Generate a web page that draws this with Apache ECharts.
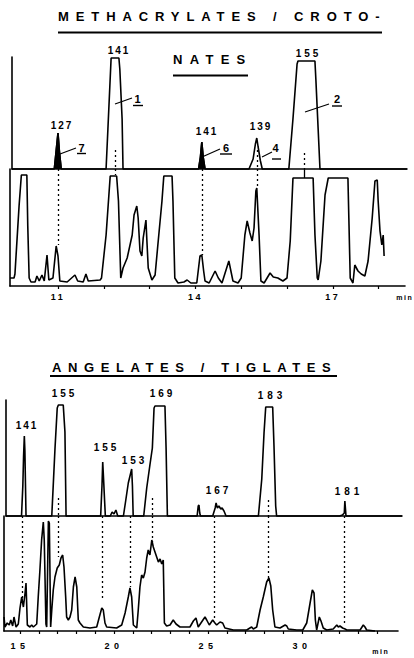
<!DOCTYPE html>
<html><head><meta charset="utf-8">
<script src="https://cdn.jsdelivr.net/npm/echarts@6/dist/echarts.min.js"></script>
<style>html,body{margin:0;padding:0;background:#fff}#c{width:414px;height:658px}</style>
</head><body><div id="c"></div>
<script>
// ---------- DATA (time in min, relative intensity) ----------
// Panel 1: methacrylates / crotonates - selected ion trace (upper)
const ms1Trace = [
 [9.996,0],[10.92,0],[10.96,18],[11.00,36],[11.03,18],[11.07,0],
 [12.05,0],[12.09,40],[12.16,111],[12.33,111],[12.35,100],[12.40,50],[12.42,0],
 [14.07,0],[14.11,12],[14.14,27],[14.17,12],[14.21,0],
 [15.17,0],[15.26,10],[15.31,25],[15.34,31],[15.37,22],[15.42,8],[15.46,0],
 [16.04,0],[16.13,50],[16.22,105],[16.24,108],[16.61,108],[16.63,90],[16.68,40],[16.72,0],
 [18.62,0]
];
// time windows of the small peaks that are printed solid black
const filledWindows1 = [[10.90, 11.10], [14.05, 14.25]];
// Panel 1: total ion trace (lower)
const tic1Trace = [
 [9.952,8],[10.04,8],[10.06,12],[10.15,80],[10.20,111],[10.32,111],[10.34,60],[10.37,8],[10.41,4],
 [10.50,4],[10.54,10],[10.59,5],[10.65,11],[10.70,5],[10.76,31],[10.80,6],[10.89,8],[10.96,40],[11.00,30],[11.04,5],
 [11.20,4],[11.37,11],[11.43,5],[11.55,4],[11.61,12],[11.66,5],[11.92,6],[11.95,8],[12.05,51],[12.14,110],[12.28,110],[12.32,85],[12.37,8],
 [12.42,18],[12.51,28],[12.62,51],[12.66,71],[12.72,80],[12.75,68],[12.79,35],[12.83,30],[12.86,48],[12.92,66],[12.94,46],[12.97,18],[13.05,6],
 [13.12,11],[13.18,41],[13.27,85],[13.31,110],[13.49,110],[13.51,85],[13.55,8],[13.62,3],[13.75,4],[13.82,6],[13.90,3],[14.03,3],
 [14.10,30],[14.14,31],[14.18,15],[14.21,5],[14.30,3],[14.43,15],[14.50,8],[14.58,3],[14.73,25],[14.82,5],[14.93,3],[15.00,8],
 [15.08,51],[15.13,65],[15.19,53],[15.24,45],[15.28,58],[15.32,95],[15.34,98],[15.39,51],[15.43,5],[15.50,3],[15.63,13],[15.70,9],[15.80,8],[15.91,5],[16.00,8],
 [16.07,45],[16.13,108],[16.57,108],[16.61,51],[16.66,8],[16.68,6],[16.74,25],[16.83,91],[16.90,108],[17.33,108],[17.35,68],[17.38,8],[17.44,3],
 [17.48,21],[17.55,15],[17.62,12],[17.70,10],[17.77,25],[17.86,68],[17.92,105],[17.97,106],[17.99,85],[18.03,55],[18.07,41],[18.10,51],[18.12,30]
];
// connector lines panel 1: [time, start inside upper peak, end on lower trace]
const links1 = [[11.00,0,41],[12.24,19,111],[14.14,0,31],[15.34,19,99],[16.37,16,null]];
const ties1 = [[16.37,108]];

// Panel 2: angelates / tiglates - selected ion trace (upper)
const ms2Trace = [
 [14.255,0],[15.08,0],[15.15,30],[15.19,60],[15.23,80],[15.26,65],[15.32,0],
 [16.69,0],[16.86,67],[16.98,108],[17.04,111],[17.30,111],[17.39,84],[17.45,0],
 [19.29,0],[19.36,30],[19.40,54],[19.45,35],[19.50,15],[19.54,0],
 [19.80,0],[19.90,4],[20.00,2],[20.10,6],[20.20,0],
 [20.50,0],[20.62,15],[20.76,33],[20.94,47],[20.98,30],[21.02,0],
 [21.58,0],[21.74,28],[21.91,51],[22.04,68],[22.13,108],[22.18,110],[22.71,110],[22.77,68],[22.84,0],
 [24.42,0],[24.48,10],[24.52,11],[24.56,3],[24.60,0],
 [25.25,0],[25.38,8],[25.43,13],[25.50,8],[25.58,10],[25.68,7],[25.75,8],[25.85,5],[25.96,0],
 [27.68,0],[27.86,37],[27.98,83],[28.07,109],[28.44,109],[28.51,70],[28.60,10],[28.65,0],
 [32.00,0],[32.15,1],[32.25,3],[32.28,15],[32.31,15],[32.34,0],
 [35.32,0]
];
// Panel 2: total ion trace (lower)
const tic2Trace = [
 [14.15,14],[14.20,4],[14.32,8],[14.43,6],[14.51,11],[14.61,5],[14.68,14],[14.79,4],[14.91,7],[15.00,23],[15.09,34],[15.18,24],[15.27,38],[15.32,48],[15.39,6],
 [15.53,4],[15.62,6],[15.71,4],[15.89,7],[15.97,34],[16.06,61],[16.15,91],[16.24,109],[16.29,91],[16.38,7],[16.42,4],[16.51,110],[16.56,108],[16.63,4],
 [16.69,21],[16.77,41],[16.86,54],[16.98,63],[17.09,66],[17.18,73],[17.27,76],[17.34,64],[17.43,34],[17.48,14],[17.57,11],[17.66,14],[17.75,21],[17.84,44],[17.93,54],[18.02,44],[18.10,11],
 [18.19,8],[18.37,4],[18.72,3],[19.08,4],[19.22,14],[19.35,23],[19.43,21],[19.52,8],[19.61,4],[20.14,3],[20.41,6],[20.59,18],[20.76,34],[20.85,43],[20.94,34],[21.03,6],
 [21.21,3],[21.29,21],[21.38,44],[21.47,56],[21.56,53],[21.65,59],[21.74,73],[21.82,81],[21.91,76],[22.01,91],[22.09,84],[22.18,79],[22.27,74],[22.36,69],[22.45,72],[22.54,67],[22.62,71],[22.68,8],
 [22.80,5],[22.98,6],[23.15,11],[23.30,7],[23.51,4],[24.04,4],[24.22,10],[24.36,13],[24.48,4],[24.66,9],[24.84,14],[24.93,11],[25.07,6],[25.25,11],[25.37,8],[25.46,6],[25.64,9],[25.78,8],[25.90,3],
 [26.35,1],[27.06,1],[27.23,3],[27.32,4],[27.41,2],[27.59,4],[27.77,21],[27.94,34],[28.12,49],[28.24,53],[28.34,45],[28.44,21],[28.56,4],[28.83,3],[29.10,6],[29.19,5],[29.27,2],
 [29.72,1],[30.04,1],[30.25,8],[30.43,28],[30.55,41],[30.64,38],[30.71,11],[30.78,1],[30.92,14],[31.01,10],[31.13,3],[31.31,1],[31.66,2],[31.85,6],[31.93,4],[32.02,5],[32.16,3],[32.29,2],[32.38,1],
 [33.09,1],[33.26,6],[33.35,4],[33.44,1],[33.88,0]
];
const links2 = [[15.14,0,33],[17.04,18,74],[19.35,0,33],[20.85,0,44],[22.06,18,89],[25.32,0,11],[28.21,16,53],[32.25,0,6]];

// axis ranges / ticks
const xRange1Upper = [9.996, 18.620];
const xRange1Lower = [9.952, 18.576];
const xRange2Upper = [14.255, 35.319];
const xRange2Lower = [14.149, 35.106];
const ticks1 = [11,12,13,14,15,16,17,18];
const tickLabels1 = [11,14,17];
const ticks2 = [15,16,17,18,19,20,21,22,23,24,25,26,27,28,29,30,31,32,33,34];
const tickLabels2 = [15,20,25,30];
const yMax = [112, 117, 116, 115];

// ---------- CHART ----------
const K = '#000';
const FONT = '"Liberation Sans", Arial, sans-serif';
const chart = echarts.init(document.getElementById('c'), null, {renderer:'svg', width:414, height:658});

const grids = [
  {left:12, top:57, width:395, height:112},
  {left:10, top:169, width:395, height:117},
  {left:6, top:400, width:396, height:116},
  {left:4, top:516, width:394, height:115}
].map(g => Object.assign({outerBoundsMode:'none', containLabel:false}, g));

function xAx(i, range, ticks, labels, margin) {
  const o = {type:'value', gridIndex:i, min:range[0], max:range[1],
    axisLine:{show:true, onZero:false, lineStyle:{color:K, width:1.6}},
    splitLine:{show:false}, axisTick:{show:false}, axisLabel:{show:false}};
  if (ticks) {
    o.axisTick = {show:true, length:3, inside:false, customValues:ticks, lineStyle:{color:K, width:1.2}};
    o.axisLabel = {show:true, customValues:labels, margin:margin, color:K,
      fontFamily:FONT, fontWeight:'bold', fontSize:9, formatter:v => String(v)};
  }
  return o;
}
function yAx(i, max) {
  return {type:'value', gridIndex:i, min:0, max:max,
    axisLine:{show:true, onZero:false, lineStyle:{color:K, width:1.6}},
    splitLine:{show:false}, axisTick:{show:false}, axisLabel:{show:false}};
}
const dotted = {color:K, width:1.3, type:[2,3]};
function upperLinks(links) {
  return links.filter(l => l[1] > 0).map(l => [{coord:[l[0], l[1]]}, {coord:[l[0], 0]}]);
}
function lowerLinks(links, top) {
  return links.filter(l => l[2] !== null).map(l => [{coord:[l[0], top]}, {coord:[l[0], l[2]]}]);
}
function lineSeries(data, idx, markData) {
  return {type:'line', data:data, xAxisIndex:idx, yAxisIndex:idx, symbol:'none', showSymbol:false,
    smooth:false, silent:true, clip:false, lineStyle:{color:K, width:1.6}, z:5,
    markLine:{silent:true, symbol:['none','none'], label:{show:false}, animation:false,
      lineStyle:dotted, data:markData}};
}
const filledPeaks1 = filledWindows1.map(w => ({
  type:'line', xAxisIndex:0, yAxisIndex:0, symbol:'none', silent:true, z:4,
  data: ms1Trace.filter(p => p[0] >= w[0] && p[0] <= w[1]),
  lineStyle:{color:K, width:1.6}, areaStyle:{color:K, opacity:1}
}));

const lower1Marks = lowerLinks(links1, yMax[1]).concat(
  ties1.map(t => [{coord:[t[0], yMax[1]], lineStyle:{type:'solid', width:1.3, color:K}}, {coord:[t[0], t[1]]}]));

// annotations
function T(x, y, text, size, sp, align) {
  align = align || 'center';
  return {type:'text', x: align === 'center' ? x + sp/2 : x, y:y, silent:true, z:100,
    style:{text:text, font:'bold ' + size + 'px ' + FONT, fill:K, textAlign:align, textVerticalAlign:'middle'}};
}
function L(x1, y1, x2, y2, w) {
  return {type:'line', silent:true, z:100, shape:{x1:x1, y1:y1, x2:x2, y2:y2}, style:{stroke:K, lineWidth:w || 1.2}};
}
const letterSpacing = {
  'METHACRYLATES / CROTO-':6.9, 'NATES':7.3, 'ANGELATES / TIGLATES':6.6,
  '141':2, '127':2, '139':2, '155':3, '153':3, '169':3, '183':4, '167':3, '181':4,
  '11':2.5, '14':2.5, '17':2.5, '15':4.5, '20':4.5, '25':4.5, '30':4.5, 'min':1.5
};
const graphics = [
  T(58, 16.5, 'METHACRYLATES / CROTO-', 13, 6.9, 'left'),
  L(58, 32.5, 382, 32.5, 1.8),
  T(173, 59.5, 'NATES', 13, 7.3, 'left'),
  L(173, 75.5, 248, 75.5, 1.8),
  T(118, 50.5, '141', 10, 2), T(61, 125, '127', 10, 2), T(307, 53.5, '155', 10, 3),
  T(206, 131, '141', 10, 2), T(260, 126, '139', 10, 2),
  T(137.5, 99, '1', 11, 0), L(133, 105.5, 143, 105.5, 1.4), L(115, 104, 132, 98),
  T(337, 99, '2', 11, 0), L(332, 106, 342, 106, 1.4), L(305, 112, 329, 104),
  T(81.5, 147.5, '7', 11, 0), L(77, 153.5, 86, 153.5, 1.4), L(60, 154, 76, 148),
  T(226, 147.5, '6', 11, 0), L(220, 154, 232, 154, 1.4), L(202, 157, 220, 149),
  T(275.5, 148, '4', 11, 0), L(272, 159, 281, 159, 1.4), L(262, 157, 272, 152),
  T(404, 297.5, 'min', 7, 1.5),
  T(52, 367.5, 'ANGELATES / TIGLATES', 13, 6.6, 'left'),
  L(50, 376, 337, 376, 1.8),
  T(26, 425, '141', 10, 2), T(63, 393, '155', 10, 3), T(105, 447, '155', 10, 3),
  T(133, 460, '153', 10, 3), T(161, 393, '169', 10, 3), T(270, 395, '183', 10, 4),
  T(217, 490, '167', 10, 3), T(347, 491, '181', 10, 4),
  T(380, 651, 'min', 7, 1.5)
];

chart.setOption({
  animation:false,
  backgroundColor:'#fff',
  grid:grids,
  xAxis:[
    xAx(0, xRange1Upper), xAx(1, xRange1Lower, ticks1, tickLabels1, 6),
    xAx(2, xRange2Upper), xAx(3, xRange2Lower, ticks2, tickLabels2, 10)
  ],
  yAxis:[yAx(0, yMax[0]), yAx(1, yMax[1]), yAx(2, yMax[2]), yAx(3, yMax[3])],
  series:[
    lineSeries(ms1Trace, 0, upperLinks(links1)),
    lineSeries(tic1Trace, 1, lower1Marks),
    lineSeries(ms2Trace, 2, upperLinks(links2)),
    lineSeries(tic2Trace, 3, lowerLinks(links2, yMax[3]))
  ].concat(filledPeaks1),
  graphic:{elements:graphics}
});

function applySpacing() {
  document.querySelectorAll('#c svg text').forEach(function (el) {
    const s = (el.textContent || '').trim();
    if (letterSpacing[s] !== undefined) el.style.letterSpacing = letterSpacing[s] + 'px';
  });
}
applySpacing();
chart.on('finished', applySpacing);
chart.on('rendered', applySpacing);
setTimeout(applySpacing, 50);
</script>
</body></html>
